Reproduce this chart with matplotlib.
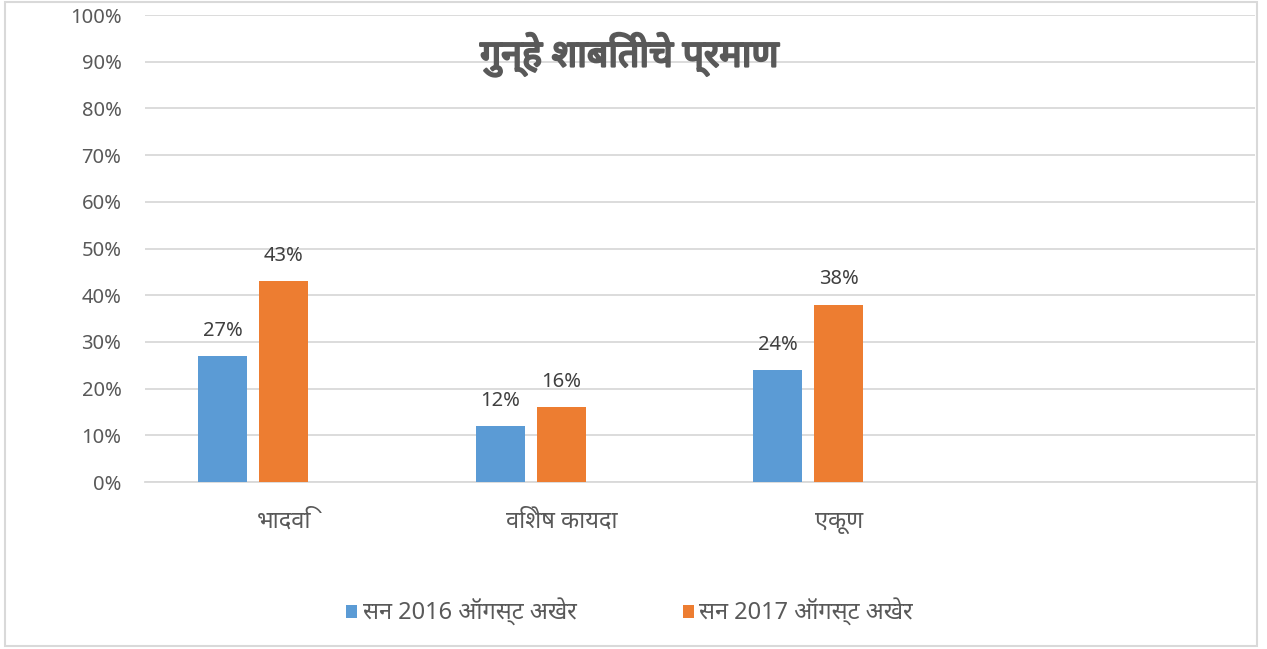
from matplotlib import font_manager
import matplotlib
matplotlib.use("Agg")
import matplotlib.pyplot as plt
import matplotlib.patheffects as pe
from matplotlib.patches import Rectangle
import numpy as np

# data
CATEGORIES = ["भादवि", "विशेष कायदा", "एकूण", ""]
SERIES = ["सन 2016 ऑगस्ट अखेर", "सन 2017 ऑगस्ट अखेर"]
VALS_2016 = [0.27, 0.12, 0.24]
VALS_2017 = [0.43, 0.16, 0.38]
TITLE = "गुन्हे शाबितीचे प्रमाण"

BLUE = "#5B9BD5"
ORANGE = "#ED7D31"
GREY_TXT = "#595959"
GRID = "#D9D9D9"

# any installed font that can draw Devanagari, latin/digits from Noto Sans
names = sorted({f.name for f in font_manager.fontManager.ttflist})
deva = [n for n in names if "Devanagari" in n or n in ("FreeSans", "Lohit Devanagari", "Mukta", "Gargi", "Mangal", "Nirmala UI")]
FAMILY = ["Noto Sans"] + deva + ["DejaVu Sans"]
plt.rcParams["font.family"] = FAMILY

fig = plt.figure(figsize=(12.67, 6.49), dpi=100)
ax = fig.add_axes([145 / 1267, 1 - 482 / 649, 1110 / 1267, (482 - 15) / 649])

x = np.arange(len(CATEGORIES))
w = 0.1766
b1 = ax.bar(x[:3] - 0.2207, VALS_2016, w, color=BLUE, label=SERIES[0], zorder=3)
b2 = ax.bar(x[:3], VALS_2017, w, color=ORANGE, label=SERIES[1], zorder=3)

for bar in [*b1, *b2]:
    ax.annotate(f"{bar.get_height() * 100:.0f}%",
                (bar.get_x() + bar.get_width() / 2, bar.get_height()),
                xytext=(0, 11), textcoords="offset points",
                ha="center", va="bottom", fontsize=14.5, color="#404040")

ax.set_xlim(-0.5, 3.5)
ax.set_ylim(0, 1)
ax.set_yticks(np.arange(0, 1.01, 0.1))
ax.set_yticklabels([f"{v}%" for v in range(0, 101, 10)])
ax.set_xticks(x)
ax.set_xticklabels(CATEGORIES)
ax.tick_params(length=0, labelsize=14.5, colors=GREY_TXT)
ax.tick_params(axis="y", pad=17)
ax.tick_params(axis="x", pad=20, labelsize=17)
ax.grid(axis="y", color=GRID, linewidth=1.3, zorder=0)
for s in ["top", "right", "left"]:
    ax.spines[s].set_visible(False)
ax.spines["bottom"].set_color(GRID)
ax.spines["bottom"].set_linewidth(1.3)

fig.text(0.497, 1 - 55 / 649, TITLE, ha="center", va="center",
         fontsize=27, fontweight="bold", color=GREY_TXT,
         path_effects=[pe.withStroke(linewidth=1.6, foreground=GREY_TXT)])

fig.legend(handles=[b1, b2], labels=SERIES, loc="center",
           bbox_to_anchor=(0.497, 1 - 612 / 649), ncol=2, frameon=False,
           fontsize=17, labelcolor=GREY_TXT, handlelength=0.45,
           handleheight=0.45, handletextpad=0.25, columnspacing=4.5)

fig.patches.append(Rectangle((5 / 1267, 3 / 649), 1252 / 1267, 644 / 649,
                             transform=fig.transFigure, fill=False,
                             edgecolor=GRID, linewidth=1.5))

fig.savefig("out.png", dpi=100)
